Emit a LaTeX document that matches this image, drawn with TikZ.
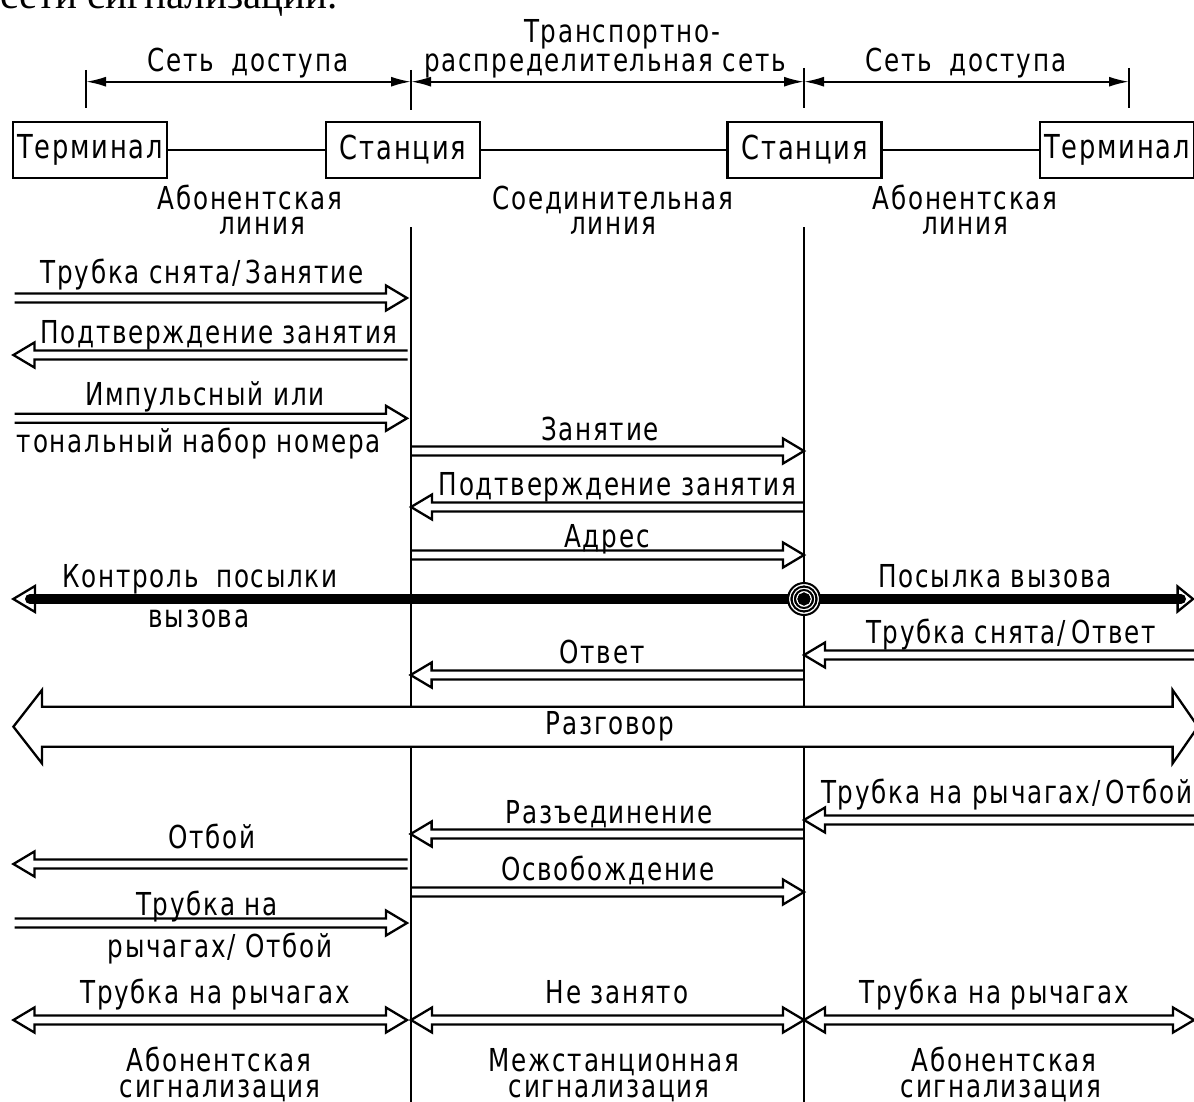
\documentclass[tikz,border=0pt]{standalone}
\usepackage{fontspec}
\usetikzlibrary{arrows.meta}
\newfontfamily\gost[FakeStretch=0.78,LetterSpace=5.5]{DejaVu Sans}
\newfontfamily\pageserif{Liberation Serif}

\tikzset{
  lw/.style={line width=1.15pt},
  lbl/.style={font=\gost\fontsize{15.8pt}{17pt}\selectfont, inner sep=0pt, anchor=base},
  lbltwo/.style={font=\gost\fontsize{15.8pt}{12.5pt}\selectfont, inner sep=0pt,
                 anchor=base, align=center},
  unit/.style={draw, line width=1.15pt, minimum width=77pt, minimum height=28pt, inner sep=0pt,
               font=\gost\fontsize{16.5pt}{18pt}\selectfont},
  dimline/.style={line width=1pt, {Latex[length=10pt,width=5pt]}-{Latex[length=10pt,width=5pt]}},
}

% hollow double-line signal arrows: tail x, tip x, y
\newcommand\sigR[3]{%
  \draw[lw] (#1,#3-4.5) -- (#2-21,#3-4.5) -- (#2-21,#3-12.5) -- (#2,#3)
    -- (#2-21,#3+12.5) -- (#2-21,#3+4.5) -- (#1,#3+4.5);}
\newcommand\sigL[3]{%
  \draw[lw] (#1,#3-4.5) -- (#2+21,#3-4.5) -- (#2+21,#3-12.5) -- (#2,#3)
    -- (#2+21,#3+12.5) -- (#2+21,#3+4.5) -- (#1,#3+4.5);}
% two-way arrow: left tip x, right tip x, y
\newcommand\sigLR[3]{%
  \draw[lw] (#1,#3) -- (#1+21,#3-12.5) -- (#1+21,#3-4.5) -- (#2-21,#3-4.5)
    -- (#2-21,#3-12.5) -- (#2,#3) -- (#2-21,#3+12.5) -- (#2-21,#3+4.5)
    -- (#1+21,#3+4.5) -- (#1+21,#3+12.5) -- cycle;}

\begin{document}
\begin{tikzpicture}[x=0.5pt,y=-0.5pt]
\useasboundingbox (0,0) rectangle (1194,1102);
\clip (0,0) rectangle (1194,1102);

% line of running text above the figure
\node[font=\pageserif\fontsize{20.5pt}{22pt}\selectfont, inner sep=0pt, anchor=base west]
  (pagetext) at (0,9) {сети сигнализации.};

% network sections
\draw[lw] (86,70) -- (86,108);
\draw[lw] (411,70) -- (411,110);
\draw[lw] (804,68) -- (804,108);
\draw[lw] (1129,68) -- (1129,108);
\draw[dimline] (86,81.7) -- (411,81.7);
\draw[dimline] (411,81.7) -- (804,81.7);
\draw[dimline] (804,81.7) -- (1129,81.7);
\node[lbl] (accA) at (248,72) {Сеть\hspace{4pt} доступа};
\node[lbl] (trn1) at (622,43) {Транспортно-};
\node[lbl] (trn2) at (605,72) {распределительная сеть};
\node[lbl] (accB) at (966,72) {Сеть\hspace{4pt} доступа};

% terminals and stations
\node[unit] (termA) at (90,150) {Терминал};
\node[unit] (stA) at (403,150) {Станция};
\node[unit] (stB) at (804.5,150) {Станция};
\node[unit] (termB) at (1117,150) {Терминал};
\draw[lw] (termA) -- (stA);
\draw[lw] (stA) -- (stB);
\draw[lw] (stB) -- (termB);

% line names (base anchor = last line)
\node[lbltwo] (subA) at (250,234) {Абонентская\\\hspace{12pt}линия};
\node[lbltwo] (trkA) at (613,234) {Соединительная\\линия};
\node[lbltwo] (subB) at (965,234) {Абонентская\\линия};

% station time lines
\draw[lw] (411,227) -- (411,1102);
\draw[lw] (804,227) -- (804,1102);

% seizure and dialling
\sigR{14.5}{407}{298}
\node[lbl] (m1) at (202,283) {Трубка снята/\,Занятие};
\sigL{407.6}{13.4}{355}
\node[lbl] (m2) at (219,343) {Подтверждение занятия};
\sigR{14.5}{407}{418.3}
\node[lbl] (m3a) at (205,405) {Импульсный или};
\node[lbl] (m3b) at (199,452) {тональный набор номера};
\sigR{411}{804}{451}
\node[lbl] (m4) at (600,440) {Занятие};
\sigL{804}{411}{507}
\node[lbl] (m5) at (617.5,495) {Подтверждение занятия};
\sigR{411}{804}{555}
\node[lbl] (m6) at (607,547) {Адрес};

% ringing
\draw[lw, fill=white] (35,586) -- (13.3,599) -- (35,612) -- cycle;
\draw[lw, fill=white] (1177.6,586.5) -- (1193,599) -- (1177.6,611.5) -- cycle;
\draw[line width=5pt, line cap=round] (30,599) -- (1181,599);
\node[lbl] (m7a) at (200,587) {Контроль\hspace{4pt} посылки};
\node[lbl] (m7b) at (199,627) {вызова};
\node[lbl] (m7c) at (995,587) {Посылка вызова};
% ringing source symbol
\foreach \r in {14.25,10.75,7.25} \draw[white, line width=0.75pt] (804,599) circle[radius=\r];
\foreach \r in {16,12.5,9,5.5} \draw[line width=1pt] (804,599) circle[radius=\r];

% answer
\sigL{1196}{804}{655}
\node[lbl] (m8) at (1011,643) {Трубка снята/\,Ответ};
\sigL{804}{410.6}{675}
\node[lbl] (m9) at (602,663) {Ответ};

% conversation
\draw[lw, fill=white] (13.4,726.7) -- (42,690) -- (42,706.7) -- (1172.6,706.7) -- (1172.6,690)
  -- (1198,726.7) -- (1172.6,763.4) -- (1172.6,746.7) -- (42,746.7) -- (42,763.4) -- cycle;
\node[lbl] (m10) at (610,734) {Разговор};

% clearing
\sigL{1196}{804}{820}
\node[lbl, anchor=base east] (m11) at (1193,803) {Трубка на рычагах/\,Отбой};
\sigL{804}{410.6}{834}
\node[lbl] (m12) at (609,823) {Разъединение};
\sigL{407.6}{13.4}{864}
\node[lbl] (m13) at (212,848) {Отбой};
\sigR{411}{804}{892}
\node[lbl] (m14) at (608,880) {Освобождение};
\sigR{14.5}{407}{923}
\node[lbl] (m15a) at (207,915) {Трубка на};
\node[lbl] (m15b) at (220,957) {рычагах/ Отбой};

% idle state
\sigLR{13.4}{407}{1020}
\node[lbl] (m16) at (215,1003) {Трубка на рычагах};
\sigLR{411}{804}{1020}
\node[lbl] (m17) at (617,1003) {Не занято};
\sigLR{804}{1194}{1020}
\node[lbl] (m18) at (994,1003) {Трубка на рычагах};

% signalling domains
\node[lbl] (dA1) at (219,1071) {Абонентская};
\node[lbl] (dA2) at (220,1097) {сигнализация};
\node[lbl] (dB1) at (614,1071) {Межстанционная};
\node[lbl] (dB2) at (609,1097) {сигнализация};
\node[lbl] (dC1) at (1004,1071) {Абонентская};
\node[lbl] (dC2) at (1001,1097) {сигнализация};
\end{tikzpicture}
\end{document}
